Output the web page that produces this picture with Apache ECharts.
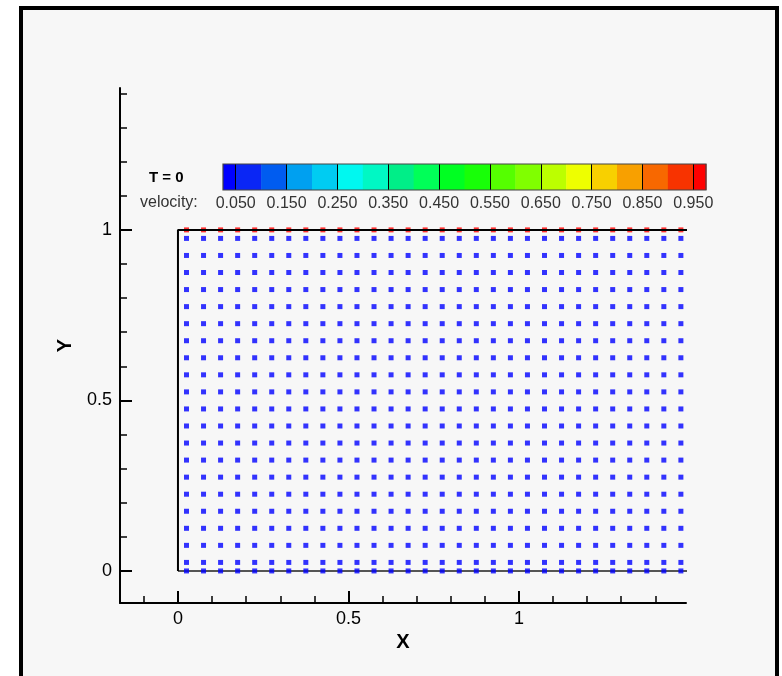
<!DOCTYPE html>
<html>
<head>
<meta charset="utf-8">
<script src="https://cdn.jsdelivr.net/npm/echarts@6/dist/echarts.min.js"></script>
<style>
  html, body { margin: 0; padding: 0; background: #ffffff; }
  #wrap { position: relative; width: 782px; height: 676px; overflow: hidden; background: #ffffff; }
  #frame { position: absolute; left: 19px; top: 6px; width: 752px; height: 720px; border: 4px solid #000; background: #f7f7f7; }
  #chart { position: absolute; left: 0; top: 0; width: 782px; height: 676px; }
</style>
</head>
<body>
<div id="wrap"><div id="frame"></div><div id="chart"></div></div>
<script>
// ---- data ----
const xCenters = [0.025, 0.075, 0.125, 0.175, 0.225, 0.275, 0.325, 0.375, 0.425, 0.475,
                  0.525, 0.575, 0.625, 0.675, 0.725, 0.775, 0.825, 0.875, 0.925, 0.975,
                  1.025, 1.075, 1.125, 1.175, 1.225, 1.275, 1.325, 1.375, 1.425, 1.475];
const rowY = [0, 0.025, 0.075, 0.125, 0.175, 0.225, 0.275, 0.325, 0.375, 0.425, 0.475,
              0.525, 0.575, 0.625, 0.675, 0.725, 0.775, 0.825, 0.875, 0.925, 0.975, 1];
const rowVelocity = [0, 0, 0, 0, 0, 0, 0, 0, 0, 0, 0,
                     0, 0, 0, 0, 0, 0, 0, 0, 0, 0, 1];
const domainX = [0, 1.5];
const domainY = [0, 1];

const xMajorTicks = [0, 0.5, 1];
const xMinorTicks = [-0.1, 0.1, 0.2, 0.3, 0.4, 0.6, 0.7, 0.8, 0.9, 1.1, 1.2, 1.3, 1.4];
const yMajorTicks = [0, 0.5, 1];
const yMinorTicks = [0.1, 0.2, 0.3, 0.4, 0.6, 0.7, 0.8, 0.9, 1.1, 1.2, 1.3, 1.4];

const cbEdges = [0.025, 0.05, 0.1, 0.15, 0.2, 0.25, 0.3, 0.35, 0.4, 0.45, 0.5,
                 0.55, 0.6, 0.65, 0.7, 0.75, 0.8, 0.85, 0.9, 0.95, 0.975];
const cbColors = ['#0000ff', '#0a26f5', '#005cf0', '#00a0f0', '#00ccf2', '#00f8f0', '#00f8c4',
                  '#00ee88', '#00ff58', '#00ff22', '#18ff08', '#55ff00', '#80ff00', '#bcff00',
                  '#eeff00', '#f8d000', '#f8a000', '#f86800', '#f83300', '#ff0000'];
const cbLabels = [0.05, 0.15, 0.25, 0.35, 0.45, 0.55, 0.65, 0.75, 0.85, 0.95];

// ---- build ----
const points = [];
rowY.forEach((y, i) => xCenters.forEach(x => points.push([x, y, rowVelocity[i]])));

const pieces = [];
for (let i = 0; i < cbColors.length; i++) {
  const p = { color: cbColors[i] };
  if (i > 0) p.gte = cbEdges[i];
  if (i < cbColors.length - 1) p.lt = cbEdges[i + 1];
  pieces.push(p);
}
const cbCells = [];
for (let i = 0; i < cbColors.length; i++) cbCells.push([cbEdges[i], cbEdges[i + 1], i]);

const boxTopLeft = [[domainX[1], domainY[1]], [domainX[0], domainY[1]], [domainX[0], domainY[0]]];
const boxBottom = [[domainX[0], domainY[0]], [domainX[1], domainY[0]]];

const FONT = '"Liberation Sans", Arial, Helvetica, sans-serif';
const XMIN = -0.17, XMAX = 1.49, YMIN = -0.094, YMAX = 1.416;

const chart = echarts.init(document.getElementById('chart'), null, { renderer: 'canvas' });
chart.setOption({
  animation: false,
  backgroundColor: 'transparent',
  grid: [
    { left: 120, right: 96, top: 88, bottom: 73, containLabel: false, outerBoundsMode: 'none' },
    { left: 223, width: 483, top: 164, height: 26, containLabel: false, outerBoundsMode: 'none' }
  ],
  xAxis: [
    {
      type: 'value', gridIndex: 0, position: 'bottom', min: XMIN, max: XMAX,
      name: 'X', nameLocation: 'middle', nameGap: 26,
      nameTextStyle: { fontFamily: FONT, fontWeight: 'bold', fontSize: 20, color: '#000' },
      axisLine: { show: true, onZero: false, lineStyle: { color: '#000', width: 2 } },
      axisTick: { show: true, inside: true, length: 12, customValues: xMajorTicks, lineStyle: { color: '#000', width: 2 } },
      axisLabel: { show: true, customValues: xMajorTicks, margin: 7, fontFamily: FONT, fontSize: 18, color: '#000',
                   formatter: v => String(v) },
      splitLine: { show: false }
    },
    {
      type: 'value', gridIndex: 0, position: 'bottom', offset: 0, min: XMIN, max: XMAX,
      axisLine: { show: false, onZero: false },
      axisTick: { show: true, inside: true, length: 7, customValues: xMinorTicks, lineStyle: { color: '#000', width: 1.5 } },
      axisLabel: { show: false },
      splitLine: { show: false }
    },
    {
      type: 'value', gridIndex: 1, position: 'bottom', min: cbEdges[0], max: cbEdges[cbEdges.length - 1], z: 10,
      axisLine: { show: false, onZero: false },
      axisTick: { show: true, inside: true, length: 26, customValues: cbLabels, lineStyle: { color: '#000', width: 1 } },
      axisLabel: { show: true, customValues: cbLabels, margin: 6, fontFamily: FONT, fontSize: 16, color: '#333',
                   formatter: v => v.toFixed(3) },
      splitLine: { show: false }
    }
  ],
  yAxis: [
    {
      type: 'value', gridIndex: 0, position: 'left', min: YMIN, max: YMAX,
      name: 'Y', nameLocation: 'middle', nameGap: 45,
      nameTextStyle: { fontFamily: FONT, fontWeight: 'bold', fontSize: 20, color: '#000' },
      axisLine: { show: true, onZero: false, lineStyle: { color: '#000', width: 2 } },
      axisTick: { show: true, inside: true, length: 12, customValues: yMajorTicks, lineStyle: { color: '#000', width: 2 } },
      axisLabel: { show: true, customValues: yMajorTicks, margin: 8, fontFamily: FONT, fontSize: 18, color: '#000',
                   formatter: v => String(v) },
      splitLine: { show: false }
    },
    {
      type: 'value', gridIndex: 0, position: 'left', offset: 0, min: YMIN, max: YMAX,
      axisLine: { show: false, onZero: false },
      axisTick: { show: true, inside: true, length: 7, customValues: yMinorTicks, lineStyle: { color: '#000', width: 1.5 } },
      axisLabel: { show: false },
      splitLine: { show: false }
    },
    {
      type: 'value', gridIndex: 1, min: 0, max: 1, show: false, axisLine: { onZero: false }
    }
  ],
  visualMap: {
    type: 'piecewise', show: false, dimension: 2, seriesIndex: 0, pieces: pieces
  },
  series: [
    {
      type: 'scatter', xAxisIndex: 0, yAxisIndex: 0, data: points,
      symbol: 'rect', symbolSize: 5, silent: true, z: 2
    },
    {
      type: 'line', xAxisIndex: 0, yAxisIndex: 0, data: boxTopLeft, symbol: 'none', silent: true, z: 3,
      clip: true, lineStyle: { color: '#000', width: 2 }
    },
    {
      type: 'line', xAxisIndex: 0, yAxisIndex: 0, data: boxBottom, symbol: 'none', silent: true, z: 1,
      clip: true, lineStyle: { color: '#555', width: 2 }
    },
    {
      type: 'custom', xAxisIndex: 2, yAxisIndex: 2, data: cbCells, silent: true, z: 2,
      renderItem: function (params, api) {
        const p0 = api.coord([api.value(0), 1]);
        const p1 = api.coord([api.value(1), 0]);
        const idx = api.value(2);
        return {
          type: 'rect',
          shape: { x: p0[0], y: p0[1], width: p1[0] - p0[0] + 0.5, height: p1[1] - p0[1] },
          style: { fill: cbColors[idx], stroke: null }
        };
      }
    },
    {
      type: 'custom', xAxisIndex: 2, yAxisIndex: 2, data: [[cbEdges[0], cbEdges[cbEdges.length - 1]]], silent: true, z: 20,
      renderItem: function (params, api) {
        const p0 = api.coord([api.value(0), 1]);
        const p1 = api.coord([api.value(1), 0]);
        return {
          type: 'rect',
          shape: { x: p0[0], y: p0[1], width: p1[0] - p0[0], height: p1[1] - p0[1] },
          style: { fill: null, stroke: '#444', lineWidth: 1.2 }
        };
      }
    }
  ],
  graphic: [
    { type: 'text', left: 149, top: 170, style: { text: 'T = 0', font: 'bold 15px ' + FONT, fill: '#000' } },
    { type: 'text', left: 140, top: 195, style: { text: 'velocity:', font: '16px ' + FONT, fill: '#333' } }
  ]
});
</script>
</body>
</html>
